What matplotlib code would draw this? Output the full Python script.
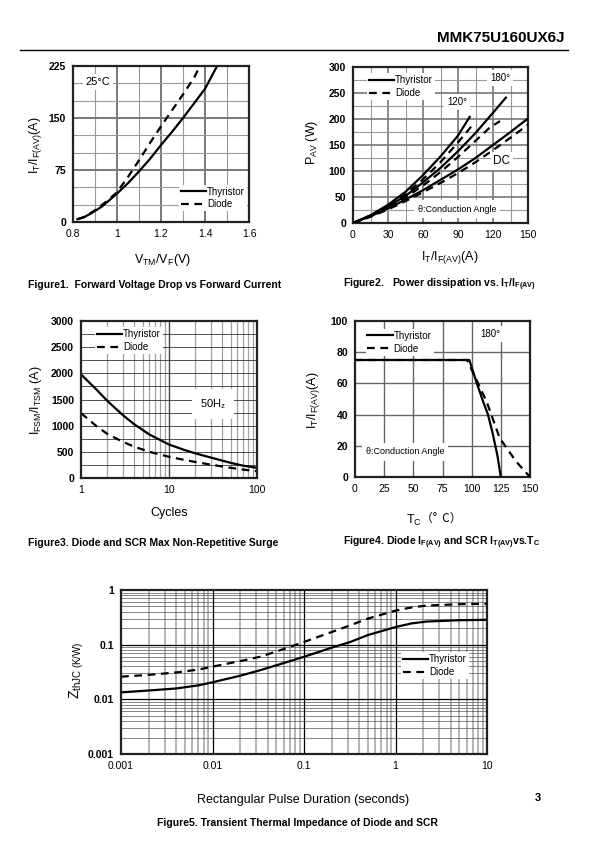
import matplotlib
matplotlib.use("Agg")
import matplotlib.pyplot as plt
import numpy as np

plt.rcParams['font.family'] = ['Liberation Sans', 'DejaVu Sans']
plt.rcParams['mathtext.fontset'] = 'custom'
plt.rcParams['mathtext.rm'] = 'Liberation Sans'
plt.rcParams['mathtext.it'] = 'Liberation Sans'
plt.rcParams['mathtext.bf'] = 'Liberation Sans:bold'

# ---------------- data ----------------
# Figure 1: forward voltage vs current
f1_thy_v = [0.82, 0.85, 0.88, 0.90, 0.93, 0.96, 1.00, 1.05, 1.10, 1.15, 1.20, 1.25, 1.30, 1.35, 1.40, 1.455]
f1_thy_i = [4, 7, 12, 16, 22, 30, 41, 56, 73, 91, 111, 130, 150, 171, 192, 225]
f1_dio_v = [0.82, 0.85, 0.90, 0.95, 1.00, 1.05, 1.10, 1.15, 1.20, 1.25, 1.30, 1.35, 1.377]
f1_dio_i = [4, 7, 17, 29, 43, 65, 89, 114, 138, 161, 184, 208, 225]

# Figure 2: power dissipation
f2_thy120_i = [0, 15, 30, 45, 60, 75, 90, 100]
f2_thy120_p = [0, 15, 35, 60, 92, 128, 168, 204]
f2_thy180_i = [0, 15, 30, 45, 60, 75, 90, 105, 120, 131]
f2_thy180_p = [0, 14, 32, 52, 78, 106, 138, 173, 212, 241]
f2_thydc_i = [0, 15, 30, 45, 60, 75, 90, 105, 120, 135, 150]
f2_thydc_p = [0, 13, 28, 45, 63, 83, 103, 125, 150, 175, 201]
f2_dio120_i = [0, 15, 30, 45, 60, 75, 90, 103]
f2_dio120_p = [0, 14, 32, 55, 84, 117, 155, 190]
f2_dio180_i = [0, 15, 30, 45, 60, 75, 90, 105, 117, 126]
f2_dio180_p = [0, 13, 30, 49, 72, 98, 127, 158, 183, 196]
f2_diodc_i = [0, 15, 30, 45, 60, 75, 90, 105, 120, 135, 150]
f2_diodc_p = [0, 12, 26, 42, 59, 77, 96, 117, 140, 164, 189]

# Figure 3: surge current vs cycles
f3_cycles = [1, 1.5, 2, 3, 4, 6, 10, 15, 20, 30, 50, 70, 100]
f3_thy = [1980, 1690, 1470, 1200, 1030, 830, 640, 535, 470, 390, 290, 235, 195]
f3_dio = [1240, 990, 840, 690, 600, 500, 405, 345, 305, 255, 195, 160, 130]

# Figure 4: current vs case temperature
f4_thy_t = [0, 98, 104, 110, 114, 118, 122, 125]
f4_thy_i = [75, 75, 61, 48, 40, 28, 14, 0]
f4_dio_t = [0, 96, 103, 113, 124, 138, 150]
f4_dio_i = [75, 75, 64, 48, 25, 10, 0]

# Figure 5: transient thermal impedance
f5_t = [0.001, 0.002, 0.004, 0.007, 0.01, 0.02, 0.033, 0.05, 0.1, 0.2, 0.32, 0.5, 1.0, 1.5, 2.2, 5, 10]
f5_thy = [0.0134, 0.0145, 0.0158, 0.018, 0.0205, 0.027, 0.034, 0.042, 0.06, 0.088, 0.112, 0.15,
          0.21, 0.245, 0.265, 0.28, 0.285]
f5_dio = [0.026, 0.028, 0.031, 0.035, 0.0396, 0.05, 0.06, 0.075, 0.112, 0.17, 0.226, 0.30,
          0.42, 0.48, 0.52, 0.55, 0.56]

W, H = 595, 842
fig = plt.figure(figsize=(W / 100, H / 100), dpi=100)


def add_ax(l, t, r, b):
    return fig.add_axes([l / W, 1 - b / H, (r - l) / W, (b - t) / H])


def ftext(x, y, s, **kw):
    fig.text(x / W, 1 - y / H, s, **kw)


def style(ax, ybold=True):
    for sp in ax.spines.values():
        sp.set_linewidth(1.6)
        sp.set_color('#222222')
    ax.tick_params(length=0, labelsize=7.5, pad=5)
    if ybold:
        for lb in ax.get_yticklabels():
            lb.set_fontweight('bold')


def legend(ax, anchor, loc='upper left', fs=7):
    leg = ax.legend(loc=loc, bbox_to_anchor=anchor, frameon=True, fontsize=fs,
                    handlelength=2.6, handletextpad=0.1, borderpad=0.2,
                    labelspacing=0.3, borderaxespad=0, fancybox=False)
    leg.get_frame().set_edgecolor('none')
    leg.get_frame().set_facecolor('white')
    leg.get_frame().set_alpha(1)
    return leg


box = dict(facecolor='white', edgecolor='none', pad=2)
DASH = (0, (3.5, 2.5))

# ---------------- header ----------------
ftext(565, 38, 'MMK75U160UX6J', ha='right', va='center', fontsize=11, fontweight='bold')
fig.add_artist(plt.Line2D([20 / W, 568 / W], [1 - 50 / H, 1 - 50 / H], color='black', lw=1.0))

# ---------------- Figure 1 ----------------
ax1 = add_ax(73, 66, 249, 222)
ax1.set_xlim(0.8, 1.6)
ax1.set_ylim(0, 225)
for v in np.arange(0.9, 1.6, 0.1):
    major = abs(v - 1.0) < 1e-6 or abs(v - 1.2) < 1e-6 or abs(v - 1.4) < 1e-6
    ax1.axvline(v, color='#777777' if major else '#9a9a9a', lw=1.4 if major else 0.8, zorder=0)
for v in range(25, 225, 25):
    major = v in (75, 150)
    ax1.axhline(v, color='#777777' if major else '#9a9a9a', lw=1.4 if major else 0.8, zorder=0)
ax1.plot(f1_thy_v, f1_thy_i, color='black', lw=1.6, label='Thyristor')
ax1.plot(f1_dio_v, f1_dio_i, color='black', lw=1.6, ls=DASH, label='Diode')
ax1.set_xticks([0.8, 1.0, 1.2, 1.4, 1.6])
ax1.set_xticklabels(['0.8', '1', '1.2', '1.4', '1.6'])
ax1.set_yticks([0, 75, 150, 225])
style(ax1)
ax1.text(0.07, 0.93, '25°C', transform=ax1.transAxes, fontsize=8, va='top', bbox=box)
legend(ax1, (0.6, 0.24))
ftext(162, 260, r'V$_{\rm TM}$/V$_{\rm F}$(V)', ha='center', va='center', fontsize=9)
ftext(35, 145, r'I$_{\rm T}$/I$_{\rm F(AV)}$(A)', ha='center', va='center', fontsize=9, rotation=90)
ftext(28, 285, 'Figure1.  Forward Voltage Drop vs Forward Current', fontsize=7.5,
      fontweight='bold', va='center')

# ---------------- Figure 2 ----------------
ax2 = add_ax(353, 67, 528, 223)
ax2.set_xlim(0, 150)
ax2.set_ylim(0, 300)
for v in range(15, 150, 15):
    ax2.axvline(v, color='#777777' if v % 30 == 0 else '#9a9a9a', lw=1.2 if v % 30 == 0 else 0.8, zorder=0)
for v in range(25, 300, 25):
    ax2.axhline(v, color='#777777' if v % 50 == 0 else '#9a9a9a', lw=1.2 if v % 50 == 0 else 0.8, zorder=0)
ax2.plot(f2_thy120_i, f2_thy120_p, color='black', lw=1.6, label='Thyristor', zorder=3)
ax2.plot(f2_thy180_i, f2_thy180_p, color='black', lw=1.6, zorder=3)
ax2.plot(f2_thydc_i, f2_thydc_p, color='black', lw=1.6, zorder=3)
ax2.plot(f2_dio120_i, f2_dio120_p, color='black', lw=1.6, ls=DASH, label='Diode', zorder=3)
ax2.plot(f2_dio180_i, f2_dio180_p, color='black', lw=1.6, ls=DASH, zorder=3)
ax2.plot(f2_diodc_i, f2_diodc_p, color='black', lw=1.6, ls=DASH, zorder=3)
ax2.set_xticks(range(0, 151, 30))
ax2.set_yticks(range(0, 301, 50))
style(ax2)
legend(ax2, (0.08, 0.96))
ftext(500, 78, '180°', ha='center', va='center', fontsize=7, bbox=box)
ftext(457, 102, '120°', ha='center', va='center', fontsize=7, bbox=box)
ftext(502, 161, 'DC', ha='center', va='center', fontsize=8.5, bbox=box)
ftext(457, 209, 'θ:Conduction Angle', ha='center', va='center', fontsize=6.5,
      bbox=dict(facecolor='white', edgecolor='none', pad=3), zorder=5)
ftext(450, 257, r'I$_{\rm T}$/I$_{\rm F(AV)}$(A)', ha='center', va='center', fontsize=9)
ftext(312, 142, r'P$_{\rm AV}$ (W)', ha='center', va='center', fontsize=9, rotation=90)
ftext(343, 285, r'Figure2.   Power dissipation vs. I$_{\bf T}$/I$_{\bf F(AV)}$', fontsize=7.5,
      fontweight='bold', va='center')

# ---------------- Figure 3 ----------------
ax3 = add_ax(81, 321, 257, 478)
ax3.set_xscale('log')
ax3.set_xlim(1, 100)
ax3.set_ylim(0, 3000)
for dec in (1, 10):
    for m in range(2, 10):
        ax3.axvline(dec * m, color='#a0a0a0', lw=0.9, zorder=0)
ax3.axvline(10, color='#444444', lw=1.0, zorder=0)
for v in range(250, 3000, 250):
    ax3.axhline(v, color='#333333', lw=0.6, zorder=0)
ax3.plot(f3_cycles, f3_thy, color='black', lw=1.6, label='Thyristor')
ax3.plot(f3_cycles, f3_dio, color='black', lw=1.6, ls=DASH, label='Diode')
ax3.set_xticks([1, 10, 100])
ax3.set_xticklabels(['1', '10', '100'])
ax3.xaxis.set_minor_formatter(matplotlib.ticker.NullFormatter())
ax3.tick_params(which='minor', length=0)
ax3.set_yticks(range(0, 3001, 500))
style(ax3)
legend(ax3, (0.08, 0.96))
ftext(213, 404, r'50H$_{\rm z}$', ha='center', va='center', fontsize=8,
      bbox=dict(facecolor='white', edgecolor='none', pad=6))
ftext(169, 513, 'Cycles', ha='center', va='center', fontsize=9)
ftext(36, 400, r'I$_{\rm FSM}$/I$_{\rm TSM}$ (A)', ha='center', va='center', fontsize=9, rotation=90)
ftext(28, 543, 'Figure3. Diode and SCR Max Non-Repetitive Surge', fontsize=7.5,
      fontweight='bold', va='center')

# ---------------- Figure 4 ----------------
ax4 = add_ax(355, 321, 530, 477)
ax4.set_xlim(0, 150)
ax4.set_ylim(0, 100)
for v in range(25, 150, 25):
    ax4.axvline(v, color='#666666', lw=1.0, zorder=0)
for v in range(20, 100, 20):
    ax4.axhline(v, color='#666666', lw=1.0, zorder=0)
ax4.plot(f4_thy_t, f4_thy_i, color='black', lw=1.6, label='Thyristor', zorder=3)
ax4.plot(f4_dio_t, f4_dio_i, color='black', lw=1.6, ls=DASH, label='Diode', zorder=3)
ax4.set_xticks(range(0, 151, 25))
ax4.set_yticks(range(0, 101, 20))
style(ax4)
legend(ax4, (0.06, 0.95))
ftext(490, 334, '180°', ha='center', va='center', fontsize=7, bbox=box)
ftext(405, 452, 'θ:Conduction Angle', ha='center', va='center', fontsize=6.5,
      bbox=dict(facecolor='white', edgecolor='none', pad=3))
ftext(406, 520, r'T$_{\rm C}$', ha='left', va='center', fontsize=9)
ftext(421, 518, '（°  C）', ha='left', va='center', fontsize=8.5,
      family=['Noto Sans CJK SC', 'DejaVu Sans'])
ftext(313, 400, r'I$_{\rm T}$/I$_{\rm F(AV)}$(A)', ha='center', va='center', fontsize=9, rotation=90)
ftext(343, 543, r'Figure4. Diode I$_{\bf F(AV)}$ and SCR I$_{\bf T(AV)}$vs.T$_{\bf C}$', fontsize=7.5,
      fontweight='bold', va='center')

# ---------------- Figure 5 ----------------
ax5 = add_ax(121, 590, 487, 754)
ax5.set_xscale('log')
ax5.set_yscale('log')
ax5.set_xlim(0.001, 10)
ax5.set_ylim(0.001, 1)
for dec in (0.001, 0.01, 0.1, 1):
    for m in range(2, 10):
        ax5.axvline(dec * m, color='#a8a8a8', lw=1.2, zorder=0)
for dec in (0.001, 0.01, 0.1):
    for m in range(2, 10):
        ax5.axhline(dec * m, color='#555555', lw=0.5, zorder=0)
for d in (0.01, 0.1, 1):
    ax5.axvline(d, color='black', lw=0.9, zorder=0)
for d in (0.01, 0.1):
    ax5.axhline(d, color='black', lw=0.9, zorder=0)
ax5.plot(f5_t, f5_thy, color='black', lw=1.6, label='Thyristor', zorder=3)
ax5.plot(f5_t, f5_dio, color='black', lw=1.6, ls=DASH, label='Diode', zorder=3)
ax5.set_xticks([0.001, 0.01, 0.1, 1, 10])
ax5.set_xticklabels(['0.001', '0.01', '0.1', '1', '10'])
ax5.set_yticks([0.001, 0.01, 0.1, 1])
ax5.set_yticklabels(['0.001', '0.01', '0.1', '1'])
ax5.xaxis.set_minor_formatter(matplotlib.ticker.NullFormatter())
ax5.yaxis.set_minor_formatter(matplotlib.ticker.NullFormatter())
ax5.tick_params(which='minor', length=0)
style(ax5)
legend(ax5, (0.765, 0.62))
ftext(303, 800, 'Rectangular Pulse Duration (seconds)', ha='center', va='center', fontsize=9)
ftext(77, 670, r'Z$_{\rm thJC\ (K/W)}$', ha='center', va='center', fontsize=10, rotation=90)
ftext(297, 823, 'Figure5. Transient Thermal Impedance of Diode and SCR', ha='center', fontsize=7.5,
      fontweight='bold', va='center')
ftext(538, 798, '3', ha='center', va='center', fontsize=8, fontweight='bold')

fig.savefig('out.png', dpi=100)
